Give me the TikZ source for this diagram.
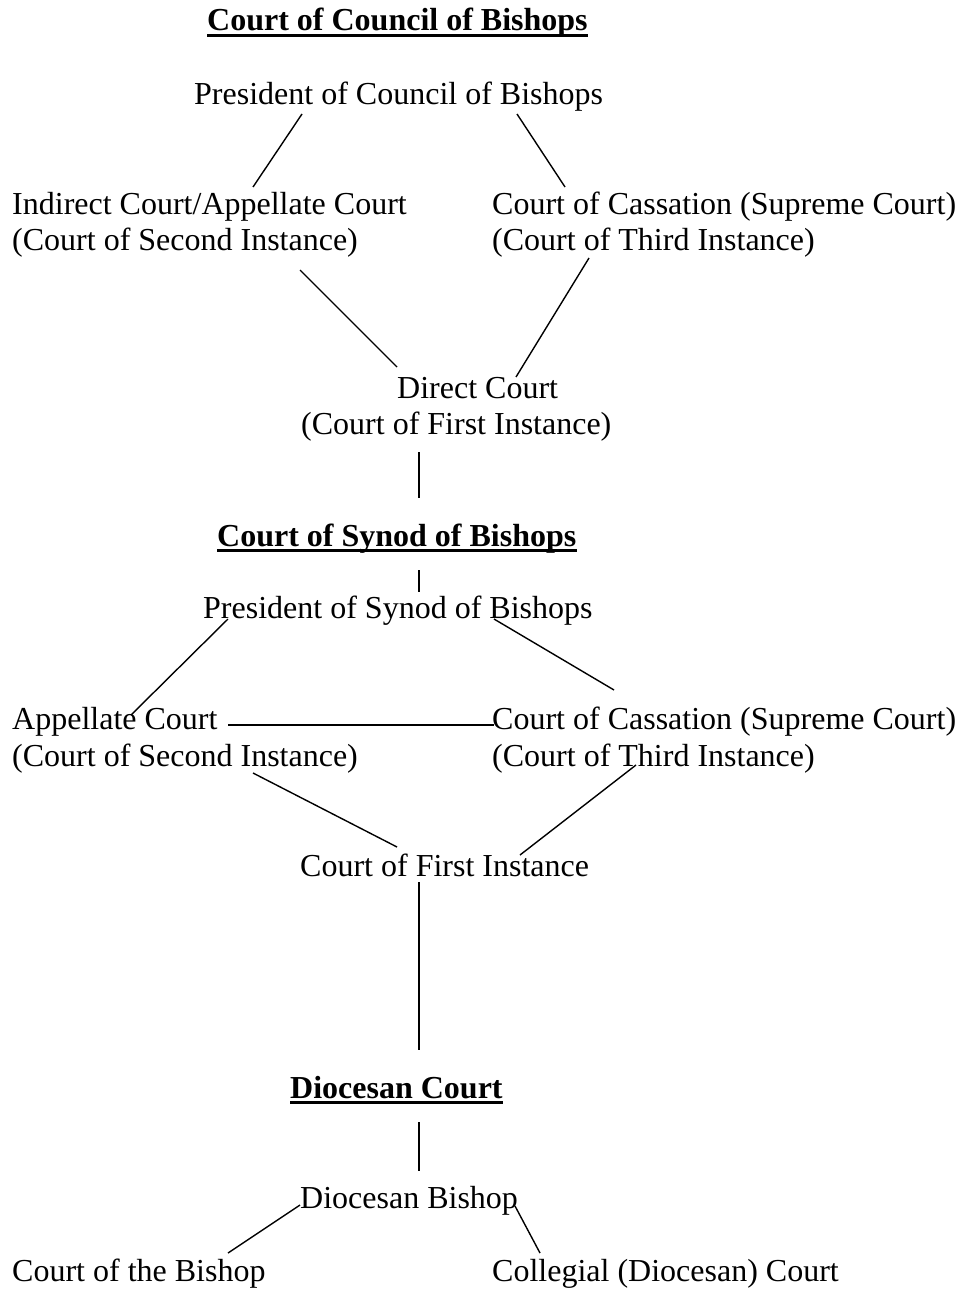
\documentclass[tikz,border=0pt]{standalone}
\usepackage{fontspec}
\setmainfont{Liberation Serif}
\begin{document}
\begin{tikzpicture}[x=1pt,y=-1pt,
  lbl/.style={anchor=base west,inner sep=0pt,font=\fontsize{32}{37}\selectfont},
  ttl/.style={lbl,font=\fontsize{32}{37}\selectfont\bfseries},
  link/.style={line width=1.4pt},
  uline/.style={line width=2.8pt}]

  \useasboundingbox (0,0) rectangle (964,1290);

  % court of council of bishops
  \node[ttl] (ccb) at (207,31) {Court of Council of Bishops};
  \draw[uline] ([yshift=-4.5pt]ccb.base west) -- ([yshift=-4.5pt]ccb.base east);
  \node[lbl] (pcb) at (194,104) {President of Council of Bishops};
  \node[lbl] (ica) at (12,214) {Indirect Court/Appellate Court};
  \node[lbl] (ica2) at (12,250) {(Court of Second Instance)};
  \node[lbl] (cas) at (492,214) {Court of Cassation (Supreme Court)};
  \node[lbl] (cas2) at (492,250) {(Court of Third Instance)};
  \node[lbl] (dir) at (397,398) {Direct Court};
  \node[lbl] (dir2) at (301,434) {(Court of First Instance)};

  \coordinate (p1) at (302,114);  \coordinate (p2) at (253,187);
  \coordinate (p3) at (517,114);  \coordinate (p4) at (565,187);
  \coordinate (p5) at (300,270);  \coordinate (p6) at (397,367);
  \coordinate (p7) at (589,258);  \coordinate (p8) at (516,377);
  \draw[link] (p1) -- (p2);
  \draw[link] (p3) -- (p4);
  \draw[link] (p5) -- (p6);
  \draw[link] (p7) -- (p8);

  \coordinate (v1) at (419,452);  \coordinate (v2) at (419,498);
  \draw[link] (v1) -- (v2);

  % court of synod of bishops
  \node[ttl] (csb) at (217,546) {Court of Synod of Bishops};
  \draw[uline] ([yshift=-4.5pt]csb.base west) -- ([yshift=-4.5pt]csb.base east);
  \coordinate (v3) at (419,570);  \coordinate (v4) at (419,592);
  \draw[link] (v3) -- (v4);
  \node[lbl] (psb) at (203,618) {President of Synod of Bishops};
  \node[lbl] (app) at (12,729) {Appellate Court};
  \node[lbl] (app2) at (12,766) {(Court of Second Instance)};
  \node[lbl] (scs) at (492,729) {Court of Cassation (Supreme Court)};
  \node[lbl] (scs2) at (492,766) {(Court of Third Instance)};
  \node[lbl] (cfi) at (300,876) {Court of First Instance};

  \coordinate (q1) at (228,619);  \coordinate (q2) at (131,715);
  \coordinate (q3) at (494,619);  \coordinate (q4) at (614,690);
  \coordinate (q5) at (228,725);  \coordinate (q6) at (494,725);
  \coordinate (q7) at (253,773);  \coordinate (q8) at (397,847);
  \coordinate (q9) at (636,765);  \coordinate (q10) at (520,855);
  \draw[link] (q1) -- (q2);
  \draw[link] (q3) -- (q4);
  \draw[line width=2.4pt] (q5) -- (q6);
  \draw[link] (q7) -- (q8);
  \draw[link] (q9) -- (q10);

  \coordinate (v5) at (419,882);  \coordinate (v6) at (419,1050);
  \draw[link] (v5) -- (v6);

  % diocesan court
  \node[ttl] (dc) at (290,1098) {Diocesan Court};
  \draw[uline] ([yshift=-4.5pt]dc.base west) -- ([yshift=-4.5pt]dc.base east);
  \coordinate (v7) at (419,1122);  \coordinate (v8) at (419,1171);
  \draw[link] (v7) -- (v8);
  \node[lbl] (db) at (300,1208) {Diocesan Bishop};
  \node[lbl] (cb) at (12,1281) {Court of the Bishop};
  \node[lbl] (col) at (492,1281) {Collegial (Diocesan) Court};

  \coordinate (r1) at (300,1205);  \coordinate (r2) at (228,1253);
  \coordinate (r3) at (515,1206);  \coordinate (r4) at (540,1253);
  \draw[link] (r1) -- (r2);
  \draw[link] (r3) -- (r4);

\end{tikzpicture}
\end{document}
